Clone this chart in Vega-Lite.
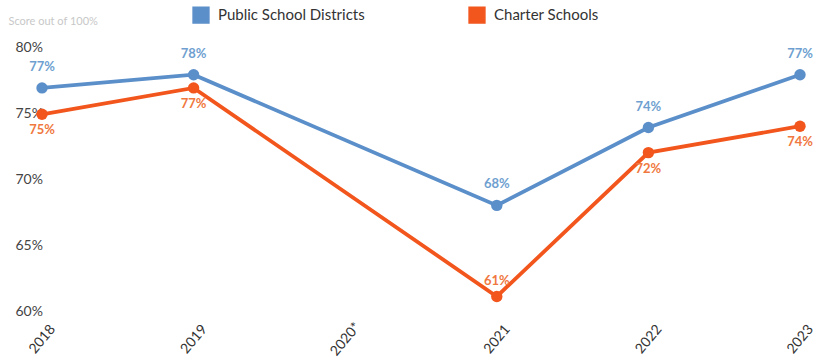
{
  "$schema": "https://vega.github.io/schema/vega-lite/v6.json",
  "width": 758,
  "height": 264,
  "autosize": {"type": "none"},
  "padding": {"left": 42, "top": 47, "right": 17, "bottom": 51},
  "background": "white",
  "config": {"view": {"stroke": null}, "font": "Lato"},
  "data": {
    "values": [
      {"year": "2018", "series": "Public School Districts", "value": 76.9, "label": "77%"},
      {"year": "2019", "series": "Public School Districts", "value": 77.9, "label": "78%"},
      {"year": "2021", "series": "Public School Districts", "value": 68.0, "label": "68%"},
      {"year": "2022", "series": "Public School Districts", "value": 73.9, "label": "74%"},
      {"year": "2023", "series": "Public School Districts", "value": 77.9, "label": "77%"},
      {"year": "2018", "series": "Charter Schools", "value": 74.9, "label": "75%"},
      {"year": "2019", "series": "Charter Schools", "value": 76.9, "label": "77%"},
      {"year": "2021", "series": "Charter Schools", "value": 61.1, "label": "61%"},
      {"year": "2022", "series": "Charter Schools", "value": 72.0, "label": "72%"},
      {"year": "2023", "series": "Charter Schools", "value": 74.0, "label": "74%"}
    ]
  },
  "encoding": {
    "x": {
      "field": "year", "type": "ordinal",
      "scale": {"type": "point", "domain": ["2018", "2019", "2020*", "2021", "2022", "2023"], "padding": 0},
      "axis": {"title": null, "labelAngle": -50, "labelAlign": "center", "labelBaseline": "middle", "labelPadding": 28, "domain": false, "ticks": false, "grid": false, "labelFontSize": 14, "labelColor": "#333333"}
    },
    "y": {
      "field": "value", "type": "quantitative",
      "scale": {"domain": [60, 80], "nice": false, "zero": false},
      "axis": {"values": [60, 65, 70, 75, 80], "labelExpr": "datum.value + '%'", "grid": false, "domain": false, "ticks": false, "labelAlign": "left", "labelPadding": 27, "labelFontSize": 14, "labelColor": "#444444",
        "title": "Score out of 100%", "titleAngle": 0, "titleAlign": "left", "titleBaseline": "middle", "titleX": -34, "titleY": -26, "titleFontSize": 11, "titleFontWeight": "normal", "titleColor": "#c8c8c8"}
    },
    "color": {
      "field": "series", "type": "nominal",
      "scale": {"domain": ["Public School Districts", "Charter Schools"], "range": ["#5b8fca", "#f2561d"]},
      "legend": {"title": null, "orient": "none", "legendX": 150, "legendY": -41, "direction": "horizontal", "symbolType": "square", "symbolSize": 250, "labelFontSize": 15, "labelColor": "#333333", "labelOffset": 8, "columnPadding": 101,
        "encode": {"symbols": {"update": {"fill": {"scale": "color", "field": "value"}, "stroke": {"value": "transparent"}, "opacity": {"value": 1}}}}}
    }
  },
  "layer": [
    {"mark": {"type": "line", "strokeWidth": 3.8}},
    {"mark": {"type": "point", "filled": true, "size": 130, "opacity": 1}},
    {
      "transform": [{"filter": "datum.series == 'Public School Districts'"}],
      "mark": {"type": "text", "dy": -21, "fontSize": 13, "fontWeight": "bold"},
      "encoding": {"text": {"field": "label"}, "color": {"value": "#6f9fd0"}}
    },
    {
      "transform": [{"filter": "datum.series == 'Charter Schools' && datum.year != '2021'"}],
      "mark": {"type": "text", "dy": 16, "fontSize": 13, "fontWeight": "bold"},
      "encoding": {"text": {"field": "label"}, "color": {"value": "#f07840"}}
    },
    {
      "transform": [{"filter": "datum.series == 'Charter Schools' && datum.year == '2021'"}],
      "mark": {"type": "text", "dy": -15, "fontSize": 13, "fontWeight": "bold"},
      "encoding": {"text": {"field": "label"}, "color": {"value": "#f07840"}}
    }
  ]
}
